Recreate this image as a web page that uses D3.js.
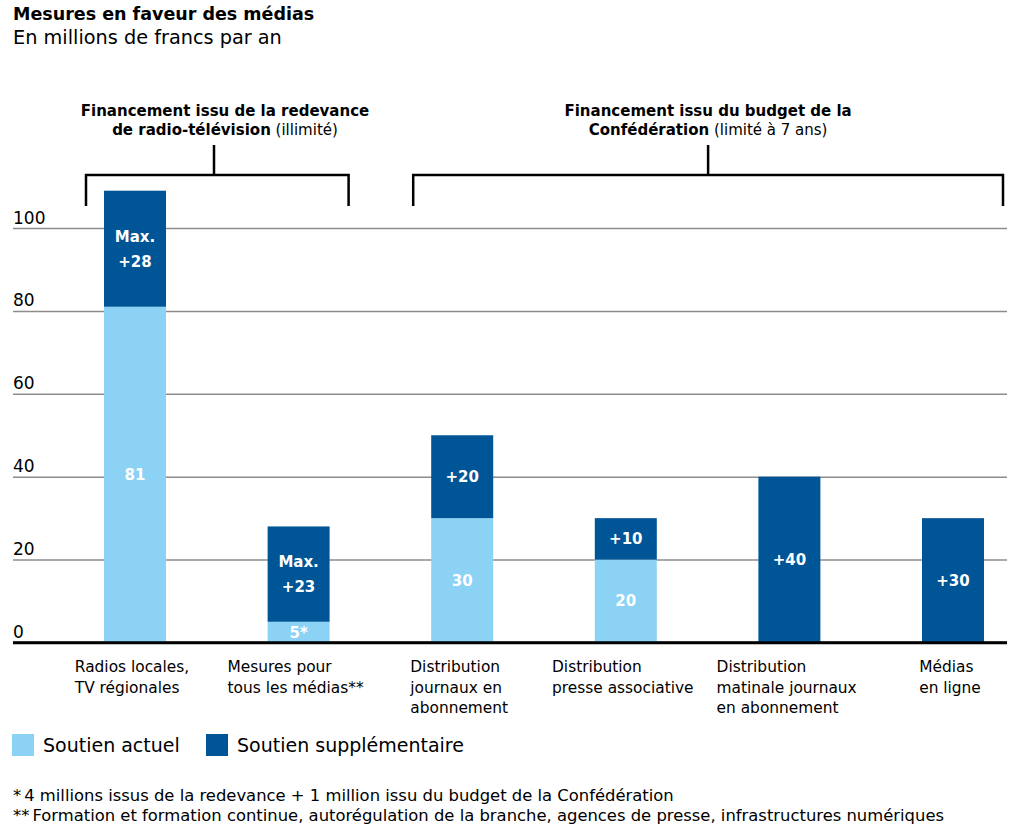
<!DOCTYPE html>
<html>
<head>
<meta charset="utf-8">
<script src="https://cdn.jsdelivr.net/npm/d3@7"></script>
<style>
  body { margin: 0; background: #fff; }
  svg { font-family: "DejaVu Sans", "Noto Sans", sans-serif; }
</style>
</head>
<body>
<svg></svg>
<script>
// data
let categories = [
    ['Radios locales,', 'TV régionales'],
    ['Mesures pour', 'tous les médias**'],
    ['Distribution', 'journaux en', 'abonnement'],
    ['Distribution', 'presse associative'],
    ['Distribution', 'matinale journaux', 'en abonnement'],
    ['Médias', 'en ligne']
]
let actuel = [81, 5, 30, 20, 0, 0]
let supplementaire = [28, 23, 20, 10, 40, 30]
let labelsActuel = ['81', '5*', '30', '20', '', '']
let labelsSupp = [['Max.', '+28'], ['Max.', '+23'], ['+20'], ['+10'], ['+40'], ['+30']]
let yTicks = [0, 20, 40, 60, 80, 100]
let legendLabels = ['Soutien actuel', 'Soutien supplémentaire']

// brackets over the groups: first and last category index, text lines (bold part, normal part)
let groups = [
    { from: 0, to: 1, lines: [['Financement issu de la redevance', ''], ['de radio-télévision', ' (illimité)']] },
    { from: 2, to: 5, lines: [['Financement issu du budget de la', ''], ['Confédération', ' (limité à 7 ans)']] }
]
let footnotes = [
    ['*', '4 millions issus de la redevance + 1 million issu du budget de la Confédération'],
    ['**', 'Formation et formation continue, autorégulation de la branche, agences de presse, infrastructures numériques']
]

let width = 1021
let height = 833
let light = '#8cd2f5'
let dark = '#005596'
let barWidth = 62

let svg = d3.select('svg').attr('width', width).attr('height', height)

let xScale = d3.scalePoint()
    .domain(d3.range(categories.length))
    .range([135, 953])

let yScale = d3.scaleLinear()
    .domain([0, 100])
    .range([642.5, 228])

// title
svg.append('text').attr('x', 13).attr('y', 20)
    .style('font-size', '17.5px').style('font-weight', 'bold')
    .text('Mesures en faveur des médias')
svg.append('text').attr('x', 13).attr('y', 44)
    .style('font-size', '19.3px')
    .text('En millions de francs par an')

// gridlines + tick labels
let yAxis = d3.axisLeft(yScale)
    .tickValues(yTicks)
    .tickSize(-(1007 - 13))
    .tickFormat(d3.format('d'))

let gy = svg.append('g')
    .attr('transform', 'translate(13, 0)')
    .call(yAxis)
gy.select('.domain').remove()
gy.selectAll('.tick line')
    .attr('stroke', d => d === 0 ? '#000' : '#8c8c8c')
    .attr('stroke-width', d => d === 0 ? 2.5 : 1.5)
gy.selectAll('.tick text')
    .attr('x', 0)
    .attr('dy', '-5px')
    .attr('text-anchor', 'start')
    .style('font-size', '17px')
    .style('font-family', '"DejaVu Sans", sans-serif')
    .attr('fill', '#000')

// stacked bars
let bars = svg.append('g')
bars.selectAll('.actuel')
    .data(actuel)
    .enter()
    .append('rect')
    .attr('class', 'actuel')
    .attr('x', (d, i) => xScale(i) - barWidth / 2)
    .attr('width', barWidth)
    .attr('y', d => yScale(d))
    .attr('height', d => yScale(0) - yScale(d))
    .attr('fill', light)

bars.selectAll('.supp')
    .data(supplementaire)
    .enter()
    .append('rect')
    .attr('class', 'supp')
    .attr('x', (d, i) => xScale(i) - barWidth / 2)
    .attr('width', barWidth)
    .attr('y', (d, i) => yScale(actuel[i] + d))
    .attr('height', (d, i) => yScale(actuel[i]) - yScale(actuel[i] + d))
    .attr('fill', dark)

// redraw baseline on top of bars
svg.append('line')
    .attr('x1', 13).attr('x2', 1007)
    .attr('y1', yScale(0)).attr('y2', yScale(0))
    .attr('stroke', '#000').attr('stroke-width', 2.5)

// value labels inside the segments
let labelGroup = svg.append('g')
    .style('font-size', '15px')
    .style('font-weight', 'bold')
    .attr('fill', '#fff')
    .attr('text-anchor', 'middle')

labelsActuel.forEach((lab, i) => {
    if (lab === '') return
    labelGroup.append('text')
        .attr('x', xScale(i))
        .attr('y', yScale(actuel[i] / 2))
        .attr('dy', '0.36em')
        .text(lab)
})

labelsSupp.forEach((lines, i) => {
    let mid = yScale(actuel[i] + supplementaire[i] / 2)
    let lh = 25
    lines.forEach((line, j) => {
        labelGroup.append('text')
            .attr('x', xScale(i))
            .attr('y', mid + (j - (lines.length - 1) / 2) * lh)
            .attr('dy', '0.36em')
            .text(line)
    })
})

// category labels: block centred under the bar, lines left-aligned
categories.forEach((lines, i) => {
    let t = svg.append('text')
        .style('font-size', '15.4px')
        .attr('y', 672)
    lines.forEach((line, j) => {
        t.append('tspan')
            .attr('dy', j === 0 ? 0 : 20.5)
            .text(line)
    })
    let maxW = 0
    t.selectAll('tspan').each(function () {
        maxW = Math.max(maxW, this.getComputedTextLength())
    })
    let x0 = xScale(i) - maxW / 2 - 3
    t.selectAll('tspan').attr('x', x0)
})

// brackets and group headers
groups.forEach(g => {
    let x1 = xScale(g.from) - 49
    let x2 = xScale(g.to) + 50
    let mid = (x1 + x2) / 2
    let textMid = mid
    if (g.from === 0) { mid = 214; textMid = 225 }
    svg.append('path')
        .attr('d', `M${x1},206 V175 H${x2} V206 M${mid},175 V145`)
        .attr('fill', 'none')
        .attr('stroke', '#000')
        .attr('stroke-width', 2.5)
    g.lines.forEach((parts, j) => {
        let t = svg.append('text')
            .attr('x', textMid)
            .attr('y', 116 + j * 19)
            .attr('text-anchor', 'middle')
            .style('font-size', '15px')
        t.append('tspan').style('font-weight', 'bold').text(parts[0])
        if (parts[1]) t.append('tspan').text(parts[1])
    })
})

// legend
let legendX = [12, 206]
legendLabels.forEach((lab, i) => {
    svg.append('rect')
        .attr('x', legendX[i]).attr('y', 734)
        .attr('width', 22).attr('height', 22)
        .attr('fill', i === 0 ? light : dark)
    svg.append('text')
        .attr('x', legendX[i] + 31).attr('y', 752)
        .style('font-size', '19px')
        .text(lab)
})

// footnotes
footnotes.forEach((note, i) => {
    let t = svg.append('text')
        .attr('x', 13).attr('y', 801 + i * 20)
        .style('font-size', '16.4px')
    t.append('tspan').text(note[0])
    t.append('tspan').attr('dx', 3).text(note[1])
})
</script>
</body>
</html>
